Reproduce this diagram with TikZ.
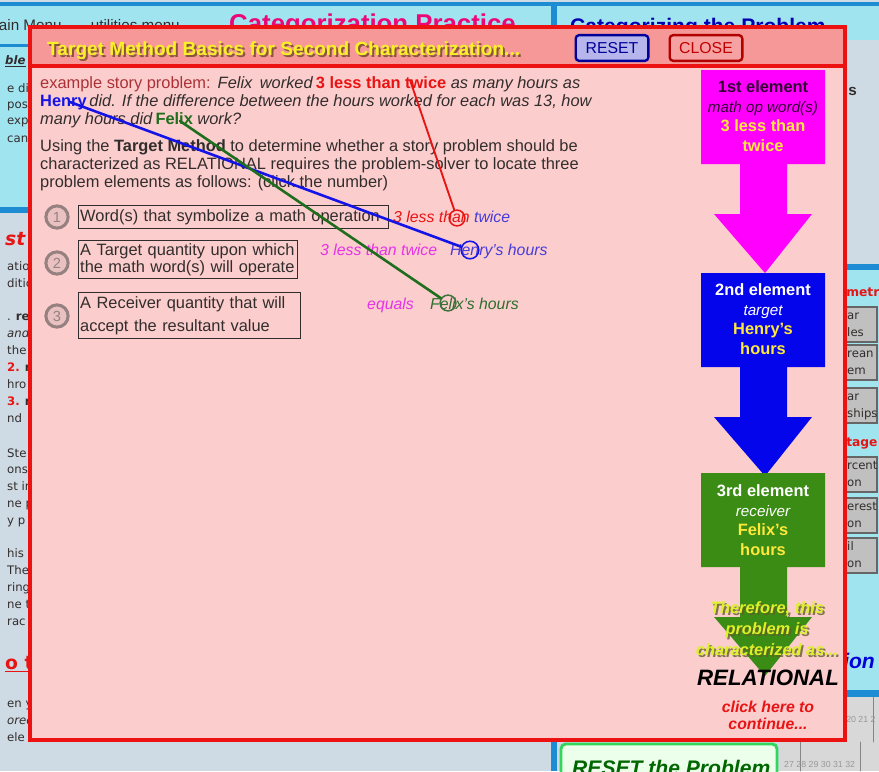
\documentclass[tikz,border=0pt]{standalone}
\usepackage{fontspec}
\setmainfont{Liberation Sans}
\newfontfamily\pagefont{DejaVu Sans}

% Colours of the page behind and of the pop-up.
\definecolor{pagegray}{RGB}{207,219,228}
\definecolor{pagecyan}{RGB}{160,228,240}
\definecolor{pageblue}{RGB}{30,140,210}
\definecolor{gridgray}{RGB}{216,216,216}
\definecolor{btngray}{RGB}{192,192,192}
\definecolor{popred}{RGB}{236,18,18}
\definecolor{popbar}{RGB}{246,152,152}
\definecolor{popbody}{RGB}{252,205,205}
\definecolor{darktext}{RGB}{50,45,45}
\definecolor{labelred}{RGB}{170,50,55}
\definecolor{wordred}{RGB}{232,20,20}
\definecolor{wordblue}{RGB}{20,20,230}
\definecolor{wordgreen}{RGB}{30,110,30}
\definecolor{hintblue}{RGB}{70,60,220}
\definecolor{hintpink}{RGB}{230,50,230}
\definecolor{hintgreen}{RGB}{45,110,45}
\definecolor{titleyellow}{RGB}{250,240,40}
\definecolor{shadowbrown}{RGB}{90,60,20}
\definecolor{elemmag}{RGB}{255,0,255}
\definecolor{elemblue}{RGB}{5,5,235}
\definecolor{elemgreen}{RGB}{58,140,20}
\definecolor{valyellow}{RGB}{255,232,60}
\definecolor{thereyellow}{RGB}{222,240,40}
\definecolor{ringgray}{RGB}{150,128,128}

\begin{document}
\begin{tikzpicture}[%
        x = 0.03cm,
        y = -0.03cm,
        line cap = round,
        bodytext/.style = {anchor = base west, inner sep = 0pt, text = darktext,
            font = \fontsize{14}{15.4}\selectfont},
        hintword/.style = {anchor = base west, inner sep = 0pt,
            font = \fontsize{13.5}{15}\selectfont\itshape},
        numring/.style = {circle, draw = ringgray, line width = 2.6pt, fill = popbody!85!gray,
            minimum size = 19pt, inner sep = 0pt, text = ringgray, font = \fontsize{12.5}{13}\selectfont},
        stepbox/.style = {draw = darktext, line width = 0.8pt, anchor = north west, align = left,
            inner xsep = 1.5pt, inner ysep = 2.5pt, text = darktext},
        markring/.style = {circle, line width = 1.3pt, minimum size = 13.5pt, inner sep = 0pt},
        link/.style = {line width = 2.2pt},
        elemtext/.style = {anchor = north, align = center, inner sep = 0pt,
            font = \fontsize{14}{16.5}\selectfont},
        pagetext/.style = {anchor = base west, inner sep = 0pt, text = darktext,
            font = \pagefont\fontsize{10}{11}\selectfont}
    ]

        \useasboundingbox (0,0) rectangle (879,771);
        \clip (0,0) rectangle (879,771);

        % The page behind the pop-up.
        \fill[pagegray] (0,0) rectangle (879,771);
        \fill[pagecyan] (0,5) rectangle (552,207);
        \fill[pagecyan] (557,5) rectangle (879,40);
        \fill[pagecyan] (842,270) rectangle (879,690);
        \fill[gridgray] (842,697) rectangle (879,771);
        \fill[gridgray] (780,742) rectangle (879,771);
        \draw[btngray!70!black, line width = 0.5pt] (800,742) -- (800,771) (860,742) -- (860,771) (873,697) -- (873,742);
        \begin{scope}[pageblue]
            \fill (0,2) rectangle (879,6);
            \fill (0,44) rectangle (30,47);
            \fill (0,207) rectangle (552,213);
            \fill (551,5) rectangle (557,771);
            \fill (842,264) rectangle (879,270);
            \fill (842,690) rectangle (879,697);
        \end{scope}

        % Headings of the page, mostly hidden by the pop-up.
        \node[anchor = base west, inner sep = 0pt, text = darktext, font = \fontsize{13}{13}\selectfont]
            (menu) at (-14,30) {Main Menu\hspace{25pt}utilities menu};
        \node[anchor = base west, inner sep = 0pt, text = magenta!80!red, font = \fontsize{22}{22}\selectfont\bfseries]
            (practice) at (229,32) {Categorization Practice};
        \node[anchor = base west, inner sep = 0pt, text = blue!70!black, font = \fontsize{18}{18}\selectfont\bfseries]
            (problem) at (570,33) {Categorizing the Problem};
        \node[anchor = base west, inner sep = 0pt, text = darktext, font = \fontsize{13}{13}\selectfont\bfseries]
            (sfrag) at (848,95) {s};
        \node[anchor = base west, inner sep = 0pt, text = blue!85!black, font = \fontsize{18}{18}\selectfont\bfseries\itshape]
            (ionfrag) at (843,668) {ion};

        % Left column of the page.
        \node[pagetext, font = \pagefont\fontsize{10}{11}\selectfont\bfseries\itshape] at (5,64) {\underline{ble}};
        \node[pagetext, text = wordred, font = \pagefont\fontsize{16}{16}\selectfont\bfseries\itshape] at (5,245) {st};
        \node[pagetext, text = wordred, font = \pagefont\fontsize{16}{16}\selectfont\bfseries] at (5,669) {\underline{o t}};
        \foreach \ypos/\frag in {92/e di, 108/pos, 124/exp, 142/can, 270/atio, 287/ditic,
                320/{. \textbf{re}}, 337/{\itshape and}, 354/the, 371/{\textcolor{wordred}{\textbf{2.}} \textbf{re}},
                388/hro, 405/{\textcolor{wordred}{\textbf{3.}} \textbf{n}}, 422/nd, 457/Ste, 473/ons,
                490/st in, 507/ne p, 524/y p, 557/his, 574/The, 591/ring, 608/ne t, 625/rac,
                707/en y, 724/{\itshape ored}, 741/ele}
            \node[pagetext] at (7,\ypos) {\frag};

        % Right column of the page: section titles and buttons.
        \node[pagetext, text = wordred, font = \pagefont\fontsize{10.5}{11}\selectfont\bfseries] at (846,296) {metry};
        \node[pagetext, text = wordred, font = \pagefont\fontsize{10.5}{11}\selectfont\bfseries] at (846,446) {tage};
        \foreach \ytop/\one/\two in {307/ar/les, 345/rean/em, 388/ar/ships, 457/rcent/on, 498/erest/on, 538/il/on} {
            \filldraw[fill = btngray, draw = black!60, line width = 1pt] (842,\ytop) rectangle (877,\ytop+35);
            \node[pagetext] at (847,\ytop+12) {\one};
            \node[pagetext] at (847,\ytop+29) {\two};
        }

        % Grid numbers and the reset button below the pop-up.
        \node[anchor = base west, inner sep = 0pt, text = black!40, font = \fontsize{7.5}{8}\selectfont]
            at (846,722) {20 21 2};
        \node[anchor = base west, inner sep = 0pt, text = black!40, font = \fontsize{7.5}{8}\selectfont]
            at (784,767) {27 28 29 30 31 32};
        \draw[draw = green!60!teal!80, fill = green!8, line width = 2.5pt, rounded corners = 4pt]
            (561,744) rectangle (777,790);
        \node[anchor = base west, inner sep = 0pt, text = green!40!black, font = \fontsize{18}{18}\selectfont\bfseries\itshape]
            (resetproblem) at (572,775) {RESET the Problem};

        % The pop-up window with its title bar.
        \fill[popbody] (30,27) rectangle (845,740);
        \fill[popbar] (30,27) rectangle (845,66);
        \draw[popred, line width = 2.6pt] (30,66) -- (845,66);
        \draw[popred, line width = 3pt] (30,27) rectangle (845,740);
        \node[anchor = base west, inner sep = 0pt, text = shadowbrown, opacity = 0.7, font = \fontsize{16.3}{16}\selectfont\bfseries]
            at (49,57) {Target Method Basics for Second Characterization...};
        \node[anchor = base west, inner sep = 0pt, text = titleyellow, font = \fontsize{16.3}{16}\selectfont\bfseries]
            (title) at (47,55) {Target Method Basics for Second Characterization...};
        \node[draw = blue!60!black, fill = blue!25!white!85!gray, line width = 2pt, rounded corners = 3pt,
            minimum width = 62pt, minimum height = 22pt, text = blue!60!black, font = \fontsize{13.5}{14}\selectfont]
            (reset) at (612,48) {RESET};
        \node[draw = red!70!black, fill = popbar!90!white, line width = 2pt, rounded corners = 3pt,
            minimum width = 62pt, minimum height = 22pt, text = red!75!black, font = \fontsize{13.5}{14}\selectfont]
            (close) at (706,48) {CLOSE};

        % The story problem and the method.
        \node[bodytext] (story1) at (40,88) {\textcolor{labelred}{example story problem:}\hspace{6pt}\textit{Felix}\hspace{6pt}\textit{worked}\,\textcolor{wordred}{\textbf{3 less than twice}} \textit{as many hours as}};
        \node[bodytext] (story2) at (40,106) {\textcolor{wordblue}{\textbf{Henry}}\,\textit{did. If the difference between the hours worked for each was 13, how}};
        \node[bodytext] (story3) at (40,124) {\textit{many hours did}\,\textcolor{wordgreen}{\textbf{Felix}} \textit{work?}};
        \node[bodytext] (method1) at (40,151) {Using the \textbf{Target Method} to determine whether a story problem should be};
        \node[bodytext] (method2) at (40,169) {characterized as RELATIONAL requires the problem-solver to locate three};
        \node[bodytext] (method3) at (40,187) {problem elements as follows: (click the number)};

        % The three numbered problem elements.
        \node[numring] (num1) at (57,217) {1};
        \node[numring] (num2) at (57,263) {2};
        \node[numring] (num3) at (57,316) {3};
        \node[stepbox, text width = 261.6pt, minimum height = 19.6pt, font = \fontsize{14}{14.5}\selectfont]
            (part1) at (78,205) {Word(s) that symbolize a math operation};
        \node[stepbox, text width = 184pt, minimum height = 32.4pt, font = \fontsize{14}{14.5}\selectfont]
            (part2) at (78,240) {A Target quantity upon which\\the math word(s) will operate};
        \node[stepbox, text width = 186.5pt, minimum height = 39.3pt, font = \fontsize{14}{19.6}\selectfont]
            (part3) at (78,292) {A Receiver quantity that will\\accept the resultant value};

        % Words found in the story for each element.
        \node[hintword, text = wordred] (hint1) at (393,222) {3 less than \textcolor{hintblue}{twice}};
        \node[hintword, text = hintpink] (hint2) at (320,255) {3 less than twice};
        \node[hintword, text = hintblue] (target) at (450,255) {Henry's hours};
        \node[hintword, text = hintpink] (hint3) at (367,309) {equals};
        \node[hintword, text = hintgreen] (receiver) at (430,309) {Felix's hours};

        % Rings round the found words, linked back to the story.
        \node[markring, draw = wordred] (marka) at (457,218) {};
        \node[markring, draw = wordblue, minimum size = 15pt] (markb) at (470,250) {};
        \node[markring, draw = hintgreen!80!gray] (markc) at (448,303) {};
        \coordinate (twiceword) at (410,80);
        \coordinate (henryword) at (70,102);
        \coordinate (felixword) at (180,121);
        \draw[link, wordred, line width = 1.6pt] (twiceword) -- (marka);
        \draw[link, wordblue] (henryword) -- (markb);
        \draw[link, wordgreen] (felixword) -- (markc);

        % The chain of the three elements.
        \foreach \ytop/\col in {70/elemmag, 273/elemblue, 473/elemgreen}
            \fill[\col] (701,\ytop) -- ++(124,0) -- ++(0,94) -- ++(-38,0) -- ++(0,50)
                -- ++(25,0) -- (765,\ytop+203) -- (714,\ytop+144) -- ++(26,0) -- ++(0,-50)
                -- ++(-39,0) -- cycle;
        \node[elemtext, text = violet!40!black] (elem1) at (763,80)
            {\textbf{1st element}\\[1pt]{\fontsize{13}{16.5}\selectfont\itshape math op word(s)}\\
             \textcolor{valyellow}{\textbf{3 less than}}\\\textcolor{valyellow}{\textbf{twice}}};
        \node[elemtext, text = white] (elem2) at (763,283)
            {\textbf{2nd element}\\[1pt]{\fontsize{13}{16.5}\selectfont\itshape target}\\
             \textcolor{valyellow}{\textbf{Henry's}}\\\textcolor{valyellow}{\textbf{hours}}};
        \node[elemtext, text = white] (elem3) at (763,484)
            {\textbf{3rd element}\\[1pt]{\fontsize{13}{16.5}\selectfont\itshape receiver}\\
             \textcolor{valyellow}{\textbf{Felix's}}\\\textcolor{valyellow}{\textbf{hours}}};

        % The verdict.
        \node[elemtext, text = olive!60!black, opacity = 0.8, font = \fontsize{14}{18}\selectfont\bfseries\itshape]
            at (769,603) {Therefore, this\\problem is\\characterized as...};
        \node[elemtext, text = thereyellow, font = \fontsize{14}{18}\selectfont\bfseries\itshape]
            (therefore) at (767,601) {Therefore, this\\problem is\\characterized as...};
        \node[anchor = base, inner sep = 0pt, text = black, font = \fontsize{19}{19}\selectfont\bfseries\itshape]
            (verdict) at (768,685) {RELATIONAL};
        \node[elemtext, text = wordred, font = \fontsize{13.5}{14.5}\selectfont\bfseries\itshape]
            (continue) at (768,701) {click here to\\continue...};
    \end{tikzpicture}
\end{document}
